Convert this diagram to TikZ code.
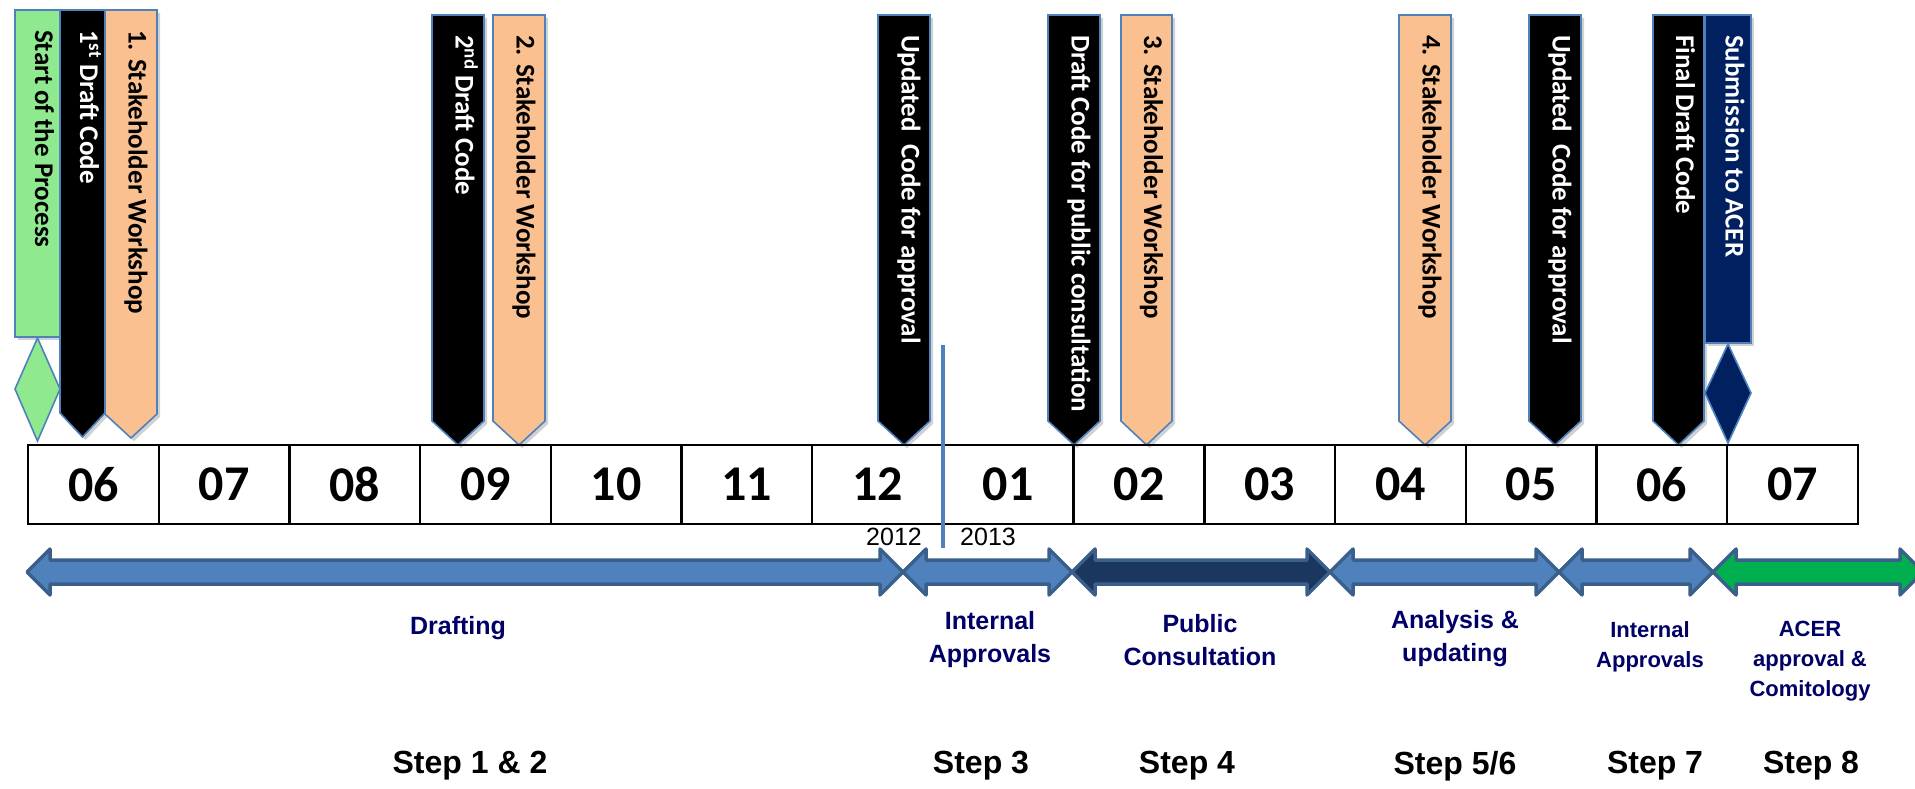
\documentclass[tikz,border=0pt]{standalone}
\usepackage{fontspec}
\setmainfont{Carlito}
\newfontfamily\arialfont{Liberation Sans}

\definecolor{boxedge}{HTML}{4F81BD}
\definecolor{milestonegreen}{HTML}{8FEA8F}
\definecolor{workshop}{HTML}{FAC090}
\definecolor{acernavy}{HTML}{002060}
\definecolor{phaseblue}{HTML}{4F81BD}
\definecolor{phaseedge}{HTML}{3A5F8B}
\definecolor{phasedark}{HTML}{1B365F}
\definecolor{phasegreen}{HTML}{00B050}
\definecolor{labelnavy}{RGB}{0,0,102}

% pentagon marker: left, right, top, tip, fill
\newcommand\flagpath[5]{%
  \fill[black, opacity=0.18] ({#1+3},{#3+3}) -- ({#2+3},{#3+3}) -- ({#2+3},{#4-21})
    -- ({(#1+#2)/2+3},{#4+3}) -- ({#1+3},{#4-21}) -- cycle;
  \filldraw[flagline, fill=#5] (#1,#3) -- (#2,#3) -- (#2,{#4-24})
    -- ({(#1+#2)/2},#4) -- (#1,{#4-24}) -- cycle;}

% rectangle marker with a diamond below: left, right, top, bottom, diamond bottom, fill
\newcommand\milestone[6]{%
  \fill[black, opacity=0.18] ({#1+3},{#3+3}) rectangle ({#2+3},{#4+3});
  \filldraw[flagline, fill=#6] ({(#1+#2)/2},{#4+1}) -- (#2,{(#4+#5)/2})
    -- ({(#1+#2)/2},#5) -- (#1,{(#4+#5)/2}) -- cycle;
  \filldraw[flagline, fill=#6] (#1,#3) rectangle (#2,#4);}

% double-headed phase arrow: left tip, right tip, fill
\newcommand\phasearrow[3]{%
  \filldraw[phase, fill=#3] (#1,572) -- ({#1+23},549) -- ({#1+23},560) -- ({#2-23},560)
    -- ({#2-23},549) -- (#2,572) -- ({#2-23},595) -- ({#2-23},584) -- ({#1+23},584)
    -- ({#1+23},595) -- cycle;}

\begin{document}
\begin{tikzpicture}[x=1pt, y=-1pt,
  flagline/.style={draw=boxedge, line width=1.6pt, line join=miter},
  flagtext/.style={rotate=-90, anchor=mid west, inner sep=0pt,
    font=\fontsize{27}{30}\selectfont\bfseries},
  cell/.style={draw=black, line width=2.4pt, minimum width=130.71pt,
    minimum height=79pt, inner sep=0pt, font=\fontsize{50}{54}\selectfont\bfseries},
  phase/.style={draw=phaseedge, line width=3.5pt, line join=round},
  phaselabel/.style={align=center, text=labelnavy, inner sep=0pt,
    font=\arialfont\fontsize{25}{33}\selectfont\bfseries},
  smalllabel/.style={phaselabel, font=\arialfont\fontsize{22}{30}\selectfont\bfseries},
  steplabel/.style={inner sep=0pt, font=\arialfont\fontsize{32}{36}\selectfont\bfseries},
  yearlabel/.style={inner sep=0pt, font=\arialfont\fontsize{25}{28}\selectfont},
  yearline/.style={draw=boxedge, line width=4pt}]

\useasboundingbox (0,0) rectangle (1915,789);

% ---- event markers above the timeline ----
\milestone{15}{60}{10}{337}{441}{milestonegreen}
\node[flagtext] (start) at (37.5,30) {Start of the Process};

\flagpath{60}{105}{10}{437}{black}
\node[flagtext, text=white] (draft1) at (82.5,30) {1\textsuperscript{st} Draft Code};

\flagpath{105}{157}{10}{438}{workshop}
\node[flagtext] (ws1) at (131,30) {1. Stakeholder Workshop};

\flagpath{432}{484}{15}{445}{black}
\node[flagtext, text=white] (draft2) at (458,35) {2\textsuperscript{nd} Draft Code};

\flagpath{493}{545}{15}{445}{workshop}
\node[flagtext] (ws2) at (519,35) {2. Stakeholder Workshop};

\flagpath{878}{930}{15}{445}{black}
\node[flagtext, text=white] (upd1) at (904,35) {Updated~ Code for approval};

\flagpath{1048}{1100}{15}{445}{black}
\node[flagtext, text=white] (pubdraft) at (1074,35) {Draft Code for public consultation};

\flagpath{1121}{1172}{15}{445}{workshop}
\node[flagtext] (ws3) at (1146.5,35) {3. Stakeholder Workshop};

\flagpath{1399}{1451}{15}{445}{workshop}
\node[flagtext] (ws4) at (1425,35) {4. Stakeholder Workshop};

\flagpath{1529}{1581}{15}{445}{black}
\node[flagtext, text=white] (upd2) at (1555,35) {Updated~ Code for approval};

\flagpath{1653}{1704}{15}{445}{black}
\node[flagtext, text=white] (final) at (1678.5,35) {Final Draft Code};

\milestone{1705}{1751}{15}{343}{443}{acernavy}
\node[flagtext, text=white] (submit) at (1728,35) {Submission to ACER};

% ---- month scale ----
\foreach \m [count=\i from 0] in {06,07,08,09,10,11,12,01,02,03,04,05,06,07}
  \node[cell] (m\i) at ({28+130.71*\i+65.36},484.5) {\m};

% year boundary
\coordinate (ytop) at (943,345);
\coordinate (ybot) at (943,548);
\draw[yearline] (ytop) -- (ybot);
\node[yearlabel] (y2012) at (894,537) {2012};
\node[yearlabel] (y2013) at (988,537) {2013};

% ---- phase arrows ----
\phasearrow{27}{903}{phaseblue}
\phasearrow{903}{1072}{phaseblue}
\phasearrow{1072}{1330}{phasedark}
\phasearrow{1330}{1559}{phaseblue}
\phasearrow{1559}{1713}{phaseblue}
\phasearrow{1713}{1923}{phasegreen}

% ---- phase names ----
\node[phaselabel] (pDraft) at (458,628) {Drafting};
\node[phaselabel] (pInt1) at (990,640) {Internal\\Approvals};
\node[phaselabel] (pPub) at (1200,640) {Public\\Consultation};
\node[phaselabel] (pAna) at (1455,639) {Analysis \&\\updating};
\node[smalllabel] (pInt2) at (1650,647) {Internal\\Approvals};
\node[smalllabel] (pAcer) at (1810,661) {ACER\\approval \&\\Comitology};

% ---- step numbers ----
\node[steplabel] (st12) at (470,766) {Step 1 \& 2};
\node[steplabel] (st3) at (981,766) {Step 3};
\node[steplabel] (st4) at (1187,766) {Step 4};
\node[steplabel] (st56) at (1455,766) {Step 5/6};
\node[steplabel] (st7) at (1655,766) {Step 7};
\node[steplabel] (st8) at (1811,766) {Step 8};

\end{tikzpicture}
\end{document}
